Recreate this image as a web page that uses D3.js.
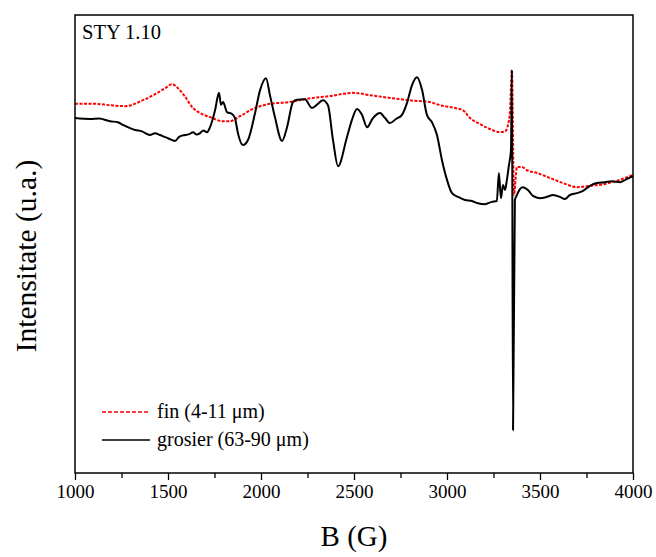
<!DOCTYPE html>
<html>
<head>
<meta charset="utf-8">
<script src="https://cdn.jsdelivr.net/npm/d3@7"></script>
<style>
  body { margin: 0; background: #fff; }
  svg { display: block; font-family: "Liberation Serif", "Times New Roman", serif; }
</style>
</head>
<body>
<div id="main"></div>
<script>
const WIDTH = 656;
const HEIGHT = 557;
const MARGIN = { top: 15, right: 23, bottom: 84, left: 75 };

/**
 * Data (B in Gauss, intensity in arbitrary units)
 */
const xTicks = [1000, 1500, 2000, 2500, 3000, 3500, 4000];
const xMinorTicks = [1250, 1750, 2250, 2750, 3250, 3750];

const grosierB = [1000, 1081, 1130, 1188, 1230, 1258, 1290, 1323, 1360, 1403, 1430, 1457, 1480, 1500, 1538, 1560, 1591, 1615, 1634, 1655, 1672, 1690, 1710, 1726, 1753, 1774, 1785, 1796, 1817, 1844, 1860, 1876, 1903, 1930, 1968, 1995, 2027, 2048, 2075, 2113, 2140, 2172, 2193, 2236, 2274, 2306, 2333, 2360, 2387, 2414, 2462, 2489, 2516, 2543, 2570, 2602, 2640, 2667, 2693, 2726, 2758, 2785, 2812, 2839, 2866, 2892, 2919, 2946, 2973, 3000, 3027, 3059, 3097, 3134, 3166, 3204, 3241, 3268, 3279, 3290, 3301, 3312, 3322, 3333, 3344, 3349, 3355, 3365, 3376, 3392, 3408, 3435, 3462, 3500, 3538, 3570, 3607, 3634, 3661, 3699, 3731, 3769, 3806, 3849, 3887, 3930, 3968, 4000];
const grosierI = [77.5, 77.3, 77.4, 76.8, 76.6, 76.0, 75.4, 74.9, 74.6, 73.8, 74.2, 73.8, 73.4, 73.1, 72.5, 73.4, 73.8, 74.0, 74.4, 73.9, 74.2, 74.8, 74.4, 75.5, 79.2, 83.0, 80.4, 81.0, 78.8, 78.4, 77.5, 74.2, 71.6, 72.7, 78.6, 83.6, 86.2, 82.5, 77.7, 72.5, 75.5, 81.0, 81.5, 81.6, 79.7, 80.6, 81.4, 80.3, 72.7, 67.0, 73.3, 77.1, 79.5, 78.2, 75.5, 77.5, 78.6, 77.5, 76.4, 77.3, 78.2, 80.8, 84.7, 86.4, 83.6, 78.2, 76.6, 73.8, 68.3, 64.0, 61.1, 60.3, 59.6, 59.4, 58.9, 58.7, 59.2, 59.4, 65.5, 60.0, 62.9, 61.8, 64.0, 67.2, 70.5, 88.0, 9.4, 59.6, 60.7, 62.0, 62.4, 61.8, 60.5, 60.0, 60.3, 60.7, 60.3, 59.8, 60.7, 61.1, 61.6, 62.7, 63.3, 63.5, 63.7, 63.5, 64.2, 64.8];

const finB = [1000, 1108, 1188, 1269, 1366, 1430, 1484, 1522, 1554, 1591, 1634, 1672, 1726, 1796, 1833, 1887, 1957, 2048, 2156, 2247, 2371, 2495, 2586, 2693, 2817, 2908, 2962, 3043, 3086, 3124, 3177, 3231, 3285, 3312, 3328, 3339, 3349, 3360, 3376, 3403, 3430, 3484, 3554, 3624, 3699, 3769, 3849, 3930, 4000];
const finI = [80.6, 80.6, 80.3, 80.1, 81.4, 82.7, 84.0, 84.9, 84.0, 82.2, 79.7, 78.6, 77.7, 76.8, 76.8, 77.9, 79.5, 80.6, 81.0, 81.7, 82.3, 83.0, 82.5, 81.9, 81.3, 81.0, 80.3, 79.7, 79.2, 77.5, 76.2, 75.1, 74.4, 74.6, 76.0, 79.2, 88.0, 60.7, 66.8, 66.8, 66.1, 65.5, 64.4, 63.3, 62.4, 62.7, 63.1, 64.0, 65.1];

const SERIES = [
  { name: "fin (4-11 \u03bcm)", b: finB, v: finI, color: "#ff0000", dash: "3,1.5", legendDash: "4,2", width: 2 },
  { name: "grosier (63-90 \u03bcm)", b: grosierB, v: grosierI, color: "#000000", dash: null, legendDash: null, width: 2 }
];

/**
 * Scales
 */
const x = d3.scaleLinear().domain([1000, 4000]).range([MARGIN.left, WIDTH - MARGIN.right]);
const y = d3.scaleLinear().domain([0, 100]).range([HEIGHT - MARGIN.bottom, MARGIN.top]);

function getSvg() {
  return d3.select("#main")
    .append("svg")
    .attr("width", WIDTH)
    .attr("height", HEIGHT)
    .attr("viewBox", [0, 0, WIDTH, HEIGHT]);
}

function renderAxes(svg) {
  const bottom = HEIGHT - MARGIN.bottom;

  // minor ticks first, then major with labels
  svg.append("g")
    .attr("transform", `translate(0, ${bottom})`)
    .call(d3.axisBottom(x).tickValues(xMinorTicks).tickSize(5).tickFormat(""))
    .call(g => g.select(".domain").remove())
    .selectAll("line").attr("stroke-width", 1.3);

  const ax = svg.append("g")
    .attr("transform", `translate(0, ${bottom})`)
    .call(d3.axisBottom(x).tickValues(xTicks).tickSize(7).tickPadding(5).tickFormat(d3.format("d")));
  ax.select(".domain").remove();
  ax.selectAll("line").attr("stroke-width", 1.3);
  ax.selectAll("text")
    .attr("font-size", 19)
    .attr("font-family", "Liberation Serif, serif")
    .attr("fill", "#000");

  // frame
  svg.append("rect")
    .attr("x", MARGIN.left)
    .attr("y", MARGIN.top)
    .attr("width", WIDTH - MARGIN.left - MARGIN.right)
    .attr("height", HEIGHT - MARGIN.top - MARGIN.bottom)
    .attr("fill", "none")
    .attr("stroke", "#000")
    .attr("stroke-width", 1.5);
}

function renderLines(svg) {
  const line = d3.line()
    .curve(d3.curveMonotoneX)
    .x(d => x(d[0]))
    .y(d => y(d[1]));

  for (const s of SERIES) {
    svg.append("path")
      .datum(s.b.map((b, i) => [b, s.v[i]]))
      .attr("d", line)
      .attr("fill", "none")
      .attr("stroke", s.color)
      .attr("stroke-width", s.width)
      .attr("stroke-dasharray", s.dash)
      .attr("stroke-linejoin", "round");
  }
}

function renderLabels(svg) {
  svg.append("text")
    .attr("x", 82)
    .attr("y", 39)
    .attr("font-size", 20.5)
    .text("STY 1.10");

  svg.append("text")
    .attr("x", (MARGIN.left + WIDTH - MARGIN.right) / 2)
    .attr("y", 546)
    .attr("text-anchor", "middle")
    .attr("font-size", 29)
    .text("B (G)");

  svg.append("text")
    .attr("transform", `translate(36, ${(MARGIN.top + HEIGHT - MARGIN.bottom) / 2 + 12}) rotate(-90)`)
    .attr("text-anchor", "middle")
    .attr("font-size", 29.5)
    .text("Intensitate (u.a.)");
}

function renderLegend(svg) {
  const rows = [412, 440];
  SERIES.forEach((s, i) => {
    svg.append("line")
      .attr("x1", 102).attr("x2", 150)
      .attr("y1", rows[i]).attr("y2", rows[i])
      .attr("stroke", s.color)
      .attr("stroke-width", 1.3)
      .attr("stroke-dasharray", s.legendDash);
    svg.append("text")
      .attr("x", 157)
      .attr("y", rows[i] + 6)
      .attr("font-size", 20)
      .text(s.name);
  });
}

const svg = getSvg();
renderLines(svg);
renderAxes(svg);
renderLabels(svg);
renderLegend(svg);
</script>
</body>
</html>
